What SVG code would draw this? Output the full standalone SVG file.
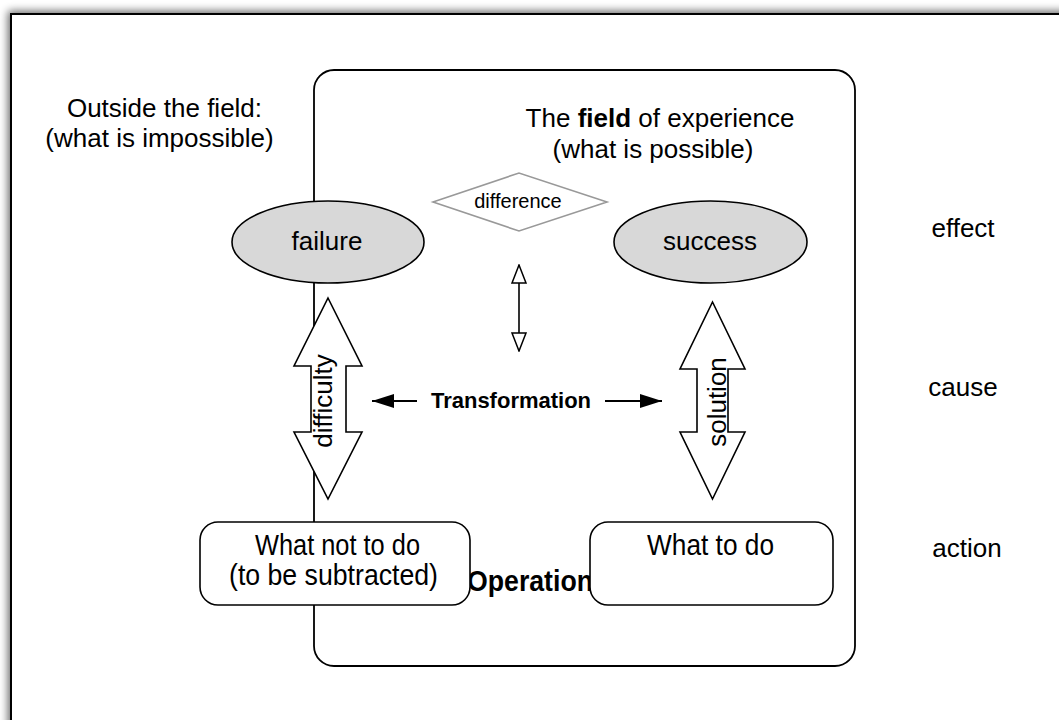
<svg xmlns="http://www.w3.org/2000/svg" width="1059" height="720" viewBox="0 0 1059 720">
  <defs>
    <filter id="shadow" x="-0.1" y="-0.1" width="1.2" height="1.2">
      <feGaussianBlur stdDeviation="4"/>
    </filter>
    <marker id="openHead" viewBox="0 0 20 16" markerWidth="20" markerHeight="16" refX="19" refY="8" orient="auto-start-reverse" markerUnits="userSpaceOnUse">
      <path d="M1,1 L19,8 L1,15 Z" fill="#fff" stroke="#000" stroke-width="1.5"/>
    </marker>
    <marker id="solidHead" viewBox="0 0 22 14" markerWidth="22" markerHeight="14" refX="22" refY="7" orient="auto" markerUnits="userSpaceOnUse">
      <path d="M0,0 L22,7 L0,14 Z" fill="#000"/>
    </marker>
  </defs>
  <style>
    .t { font-family: "Liberation Sans", Arial, Helvetica, sans-serif; fill: #000; }
    .big { font-size: 26px; }
    .mid { font-size: 20px; }
    .b { font-weight: bold; }
    .shape { fill: #fff; stroke: #000; stroke-width: 1.6; }
    .oval { fill: #d8d8d8; stroke: #000; stroke-width: 1.6; }
    .link { fill: none; stroke: #000; }
  </style>

  <rect width="1059" height="720" fill="#fff"/>

  <g id="frame">
    <rect x="8" y="11" width="1200" height="800" fill="#000" opacity="0.6" filter="url(#shadow)"/>
    <rect x="11" y="14" width="1200" height="800" fill="#fff" stroke="#000" stroke-width="2"/>
  </g>

  <g id="outside-label">
    <text class="t big" x="164.5" y="117" text-anchor="middle">Outside the field:</text>
    <text class="t big" x="159.5" y="147" text-anchor="middle">(what is impossible)</text>
  </g>

  <g id="field">
    <rect x="314" y="70" width="541" height="596" rx="20" ry="20" fill="none" stroke="#000" stroke-width="1.8"/>
    <text class="t big" x="660" y="127" text-anchor="middle">The <tspan class="b">field</tspan> of experience</text>
    <text class="t big" x="653" y="158" text-anchor="middle">(what is possible)</text>
  </g>

  <g id="connectors">
    <line class="link" x1="519" y1="265" x2="519" y2="351" stroke-width="1.6" marker-start="url(#openHead)" marker-end="url(#openHead)"/>
    <line class="link" x1="417" y1="401" x2="372" y2="401" stroke-width="2" marker-end="url(#solidHead)"/>
    <line class="link" x1="605" y1="401" x2="662" y2="401" stroke-width="2" marker-end="url(#solidHead)"/>
  </g>

  <g id="difference">
    <polygon points="433,202 519,173 607,202 519,231" fill="#fff" stroke="#999" stroke-width="1.6"/>
    <text class="t mid" x="518" y="208" text-anchor="middle">difference</text>
  </g>

  <g id="failure">
    <ellipse class="oval" cx="328" cy="242" rx="96" ry="41"/>
    <text class="t big" x="327" y="250" text-anchor="middle">failure</text>
  </g>

  <g id="success">
    <ellipse class="oval" cx="710.5" cy="242" rx="96.5" ry="41"/>
    <text class="t big" x="710" y="250" text-anchor="middle">success</text>
  </g>

  <g id="difficulty">
    <polygon class="shape" points="328,298 362,366 346,366 346,432 362,432 328,499 294,432 311,432 311,366 294,366"/>
    <text class="t big" x="332" y="401" text-anchor="middle" transform="rotate(-90 332 401)">difficulty</text>
  </g>

  <g id="solution">
    <polygon class="shape" points="712.5,302 745,369 728,369 728,432 745,432 712.5,499 680,432 697,432 697,369 680,369"/>
    <text class="t big" x="726" y="402" text-anchor="middle" transform="rotate(-90 726 402)">solution</text>
  </g>

  <g id="transformation">
    <text class="t b" font-size="22" x="511" y="408" text-anchor="middle">Transformation</text>
  </g>

  <g id="operation">
    <text class="t b" font-size="29" x="467" y="591" textLength="126" lengthAdjust="spacingAndGlyphs">Operation</text>
  </g>

  <g id="what-not-to-do">
    <rect class="shape" x="200" y="522" width="270" height="83" rx="18" ry="18"/>
    <text class="t" font-size="29" x="255" y="555" textLength="165" lengthAdjust="spacingAndGlyphs">What not to do</text>
    <text class="t" font-size="29" x="229" y="585" textLength="209" lengthAdjust="spacingAndGlyphs">(to be subtracted)</text>
  </g>

  <g id="what-to-do">
    <rect class="shape" x="590" y="522" width="243" height="83" rx="18" ry="18"/>
    <text class="t" font-size="29" x="647" y="555" textLength="127" lengthAdjust="spacingAndGlyphs">What to do</text>
  </g>

  <g id="levels">
    <text class="t big" x="963" y="237" text-anchor="middle">effect</text>
    <text class="t big" x="963" y="396" text-anchor="middle">cause</text>
    <text class="t big" x="967" y="557" text-anchor="middle">action</text>
  </g>
</svg>
